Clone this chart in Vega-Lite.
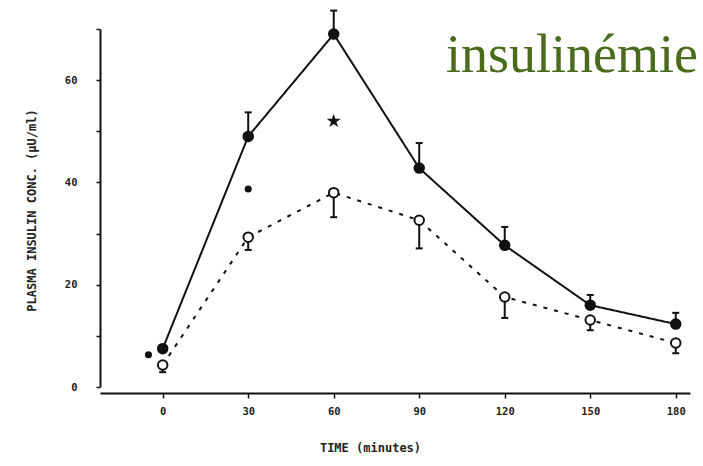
{
  "$schema": "https://vega.github.io/schema/vega-lite/v6.json",
  "width": 590,
  "height": 358,
  "autosize": {"type": "none"},
  "padding": {"left": 100, "top": 29, "right": 13, "bottom": 79},
  "background": "white",
  "title": {
    "text": "insulinémie",
    "font": "Liberation Serif",
    "fontSize": 54,
    "fontWeight": "normal",
    "color": "#4b6b1c",
    "anchor": "end",
    "frame": "group",
    "orient": "top",
    "baseline": "alphabetic",
    "offset": 0,
    "dx": 8,
    "dy": 119
  },
  "config": {
    "view": {"stroke": null},
    "axis": {
      "grid": false,
      "domainColor": "#111",
      "domainWidth": 2,
      "tickColor": "#111",
      "tickWidth": 1.5,
      "labelFont": "DejaVu Sans Mono",
      "labelFontWeight": "bold",
      "labelFontSize": 10.5,
      "labelColor": "#222",
      "titleFont": "DejaVu Sans Mono",
      "titleFontWeight": "bold",
      "titleFontSize": 12,
      "titleColor": "#222"
    }
  },
  "datasets": {
    "series": [
      {"group": "filled", "time": 0, "value": 7.5, "bar": null},
      {"group": "filled", "time": 30, "value": 49, "bar": 53.7},
      {"group": "filled", "time": 60, "value": 69, "bar": 73.6},
      {"group": "filled", "time": 90, "value": 42.8, "bar": 47.7},
      {"group": "filled", "time": 120, "value": 27.7, "bar": 31.3},
      {"group": "filled", "time": 150, "value": 16, "bar": 18},
      {"group": "filled", "time": 180, "value": 12.3, "bar": 14.5},
      {"group": "open", "time": 0, "value": 4.3, "bar": 2.9},
      {"group": "open", "time": 30, "value": 29.3, "bar": 26.8},
      {"group": "open", "time": 60, "value": 38, "bar": 33.2},
      {"group": "open", "time": 90, "value": 32.6, "bar": 27.1},
      {"group": "open", "time": 120, "value": 17.6, "bar": 13.5},
      {"group": "open", "time": 150, "value": 13.1, "bar": 11.1},
      {"group": "open", "time": 180, "value": 8.6, "bar": 6.6}
    ],
    "marks": [
      {"kind": "dot", "time": -5, "value": 6.3},
      {"kind": "dot", "time": 30, "value": 38.7},
      {"kind": "star", "time": 60, "value": 52}
    ]
  },
  "layer": [
    {
      "data": {"name": "series"},
      "mark": {"type": "line", "strokeWidth": 2, "color": "#111"},
      "encoding": {
        "x": {
          "field": "time",
          "type": "quantitative",
          "scale": {"domain": [-22, 185], "nice": false, "zero": false},
          "axis": {
            "values": [0, 30, 60, 90, 120, 150, 180],
            "title": "TIME (minutes)",
            "offset": 6,
            "tickSize": 5,
            "labelPadding": 8,
            "titlePadding": 26,
            "titleX": 270
          }
        },
        "y": {
          "field": "value",
          "type": "quantitative",
          "scale": {"domain": [0, 70], "nice": false},
          "axis": {
            "values": [0, 10, 20, 30, 40, 50, 60, 70],
            "labelExpr": "datum.value % 20 == 0 && datum.value < 70 ? datum.label : ''",
            "title": "PLASMA INSULIN CONC. (µU/ml)",
            "tickSize": 4,
            "labelPadding": 19,
            "titlePadding": 26,
            "titleY": 181
          }
        },
        "strokeDash": {
          "field": "group",
          "type": "nominal",
          "scale": {"domain": ["filled", "open"], "range": [[1, 0], [4, 7]]},
          "legend": null
        }
      }
    },
    {
      "data": {"name": "series"},
      "transform": [{"filter": "datum.bar != null"}],
      "mark": {"type": "rule", "strokeWidth": 2, "color": "#111"},
      "encoding": {
        "x": {"field": "time", "type": "quantitative"},
        "y": {"field": "value", "type": "quantitative"},
        "y2": {"field": "bar"}
      }
    },
    {
      "data": {"name": "series"},
      "transform": [{"filter": "datum.bar != null"}],
      "mark": {"type": "point", "shape": "M-1,0L1,0", "size": 49, "filled": false, "strokeWidth": 2, "color": "#111", "opacity": 1},
      "encoding": {
        "x": {"field": "time", "type": "quantitative"},
        "y": {"field": "bar", "type": "quantitative"}
      }
    },
    {
      "data": {"name": "series"},
      "mark": {"type": "point", "size": 90, "strokeWidth": 2, "opacity": 1, "stroke": "#111"},
      "encoding": {
        "x": {"field": "time", "type": "quantitative"},
        "y": {"field": "value", "type": "quantitative"},
        "fill": {
          "field": "group",
          "type": "nominal",
          "scale": {"domain": ["filled", "open"], "range": ["#111", "white"]},
          "legend": null
        }
      }
    },
    {
      "data": {"name": "marks"},
      "mark": {"type": "point", "filled": true, "color": "#111", "opacity": 1},
      "encoding": {
        "x": {"field": "time", "type": "quantitative"},
        "y": {"field": "value", "type": "quantitative"},
        "shape": {
          "field": "kind",
          "type": "nominal",
          "scale": {
            "domain": ["dot", "star"],
            "range": ["circle", "M0,-1L0.2245,-0.309L0.951,-0.309L0.363,0.118L0.588,0.809L0,0.382L-0.588,0.809L-0.363,0.118L-0.951,-0.309L-0.2245,-0.309Z"]
          },
          "legend": null
        },
        "size": {
          "field": "kind",
          "type": "nominal",
          "scale": {"domain": ["dot", "star"], "range": [50, 220]},
          "legend": null
        }
      }
    }
  ]
}
